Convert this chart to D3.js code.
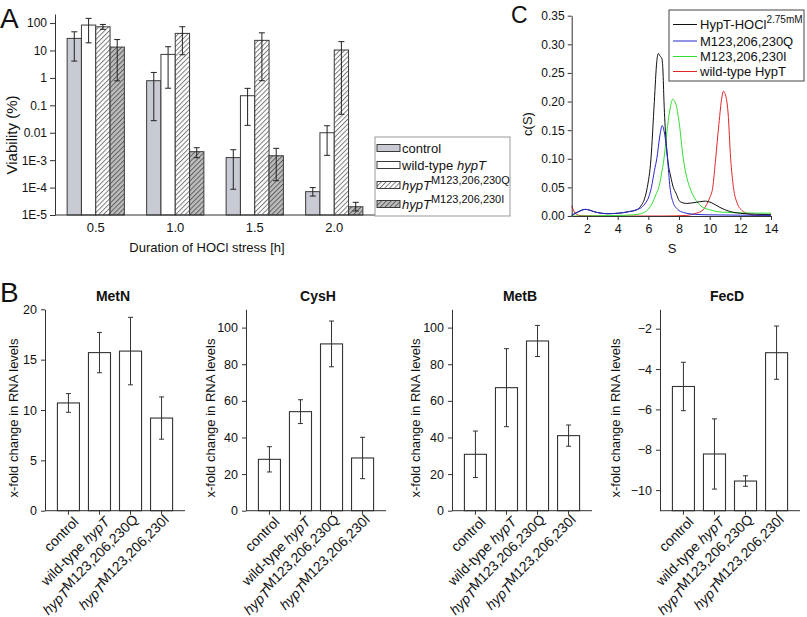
<!DOCTYPE html>
<html>
<head>
<meta charset="utf-8">
<script src="https://cdn.jsdelivr.net/npm/d3@7"></script>
<style>
body { margin: 0; background: #fff; }
svg text { font-family: "Liberation Sans", Arial, sans-serif; fill: #111; }
</style>
</head>
<body>
<svg id="fig" width="807" height="617"></svg>
<script>
// ---------- Panel A data: viability (%) after HOCl stress ----------
const DURATIONS = ['0.5', '1.0', '1.5', '2.0'];
const A_SERIES = ['control', 'wild-type', 'Q', 'I'];

const CONTROL_VAL = [27.6, 0.79, 0.00124, 7.1e-5];
const CONTROL_HI  = [48, 1.58, 0.0024, 1.0e-4];
const CONTROL_LO  = [4.1, 0.0275, 8.7e-5, 4.9e-5];

const WILD_VAL = [84.5, 7.2, 0.224, 0.0100];
const WILD_HI  = [148, 13.7, 0.415, 0.018];
const WILD_LO  = [19, 0.42, 0.0186, 0.0015];

const Q_VAL = [73, 42, 23.4, 10.4];
const Q_HI  = [89, 73.5, 44, 21];
const Q_LO  = [59, 7, 0.79, 0.047];

const I_VAL = [13.3, 0.00204, 0.00145, 2.0e-5];
const I_HI  = [25, 0.00285, 0.0027, 2.9e-5];
const I_LO  = [0.78, 0.00123, 1.78e-4, 1.4e-5];

const A_TICKS = [1e-5, 1e-4, 1e-3, 0.01, 0.1, 1, 10, 100];
const A_TICK_LABELS = ['1E-5', '1E-4', '1E-3', '0.01', '0.1', '1', '10', '100'];

// ---------- Panel B data: x-fold change in RNA levels ----------
const STRAIN_PLAIN  = ['control', 'wild-type ', '', ''];
const STRAIN_ITALIC = ['', 'hypT', 'hypT', 'hypT'];
const STRAIN_SUP    = ['', '', 'M123,206,230Q', 'M123,206,230I'];

const GENES = ['MetN', 'CysH', 'MetB', 'FecD'];
const METN = [10.7, 15.7, 15.85, 9.2];
const METN_ERR = [0.93, 2.0, 3.35, 2.1];
const CYSH = [28.05, 54.1, 91.1, 28.8];
const CYSH_ERR = [6.9, 6.5, 12.5, 11.3];
const METB = [30.8, 67.2, 92.7, 41.0];
const METB_ERR = [12.7, 21.3, 8.5, 5.8];
const FECD = [-4.865, -8.21, -9.55, -3.19];
const FECD_ERR = [1.2, 1.74, 0.26, 1.32];

// ---------- Panel C data: c(S) distributions ----------
const HOCL_S = [1.0, 1.4, 1.9, 2.6, 3.3, 4.1, 4.7, 5.2, 5.5, 5.75, 5.93, 6.17, 6.39, 6.55, 6.65, 6.75, 6.88, 6.95, 7.02, 7.26, 7.45, 7.63, 7.8, 8.07, 8.5, 9.15, 9.7, 10.13, 10.67, 11.3, 12.0, 13.0, 14.0];
const HOCL_C = [0.001, 0.007, 0.0116, 0.0065, 0.004, 0.005, 0.0075, 0.0105, 0.017, 0.03, 0.05, 0.10, 0.20, 0.27, 0.284, 0.28, 0.275, 0.255, 0.20, 0.10, 0.07, 0.05, 0.04, 0.025, 0.022, 0.024, 0.026, 0.023, 0.015, 0.008, 0.0047, 0.003, 0.0023];

const MQ_S = [1.0, 1.4, 1.9, 2.6, 3.3, 4.1, 4.7, 5.2, 5.55, 5.85, 6.05, 6.2, 6.4, 6.55, 6.75, 6.9, 7.05, 7.25, 7.41, 7.6, 7.9, 8.3, 9.0, 10.0, 12.0, 14.0];
const MQ_C = [0.001, 0.007, 0.0116, 0.0065, 0.004, 0.005, 0.0075, 0.0105, 0.015, 0.024, 0.035, 0.05, 0.08, 0.10, 0.14, 0.158, 0.145, 0.10, 0.05, 0.025, 0.012, 0.006, 0.003, 0.002, 0.0015, 0.001];

const MI_S = [1.0, 2.0, 3.0, 4.0, 5.0, 5.5, 6.0, 6.3, 6.5, 6.7, 6.9, 7.02, 7.2, 7.4, 7.59, 7.8, 8.0, 8.28, 8.5, 8.7, 9.0, 9.5, 10.0, 10.5, 11.0, 12.0, 13.0, 14.0];
const MI_C = [0.0, 0.0, 0.0005, 0.001, 0.002, 0.004, 0.012, 0.025, 0.038, 0.052, 0.08, 0.10, 0.145, 0.185, 0.204, 0.195, 0.165, 0.10, 0.068, 0.05, 0.032, 0.016, 0.011, 0.0076, 0.0065, 0.0055, 0.005, 0.005];

const WT_S = [1.0, 1.15, 1.3, 1.6, 3.0, 5.0, 7.0, 8.5, 9.0, 9.5, 9.8, 10.0, 10.2, 10.39, 10.6, 10.8, 10.9, 11.0, 11.2, 11.37, 11.55, 11.8, 12.1, 12.5, 13.0, 14.0];
const WT_C = [0.018, 0.008, 0.003, 0.0005, 0.0, 0.0, 0.0, 0.001, 0.004, 0.009, 0.02, 0.032, 0.05, 0.10, 0.16, 0.208, 0.218, 0.214, 0.18, 0.10, 0.05, 0.022, 0.01, 0.004, 0.001, 0.0];

const C_NAMES = ['HypT-HOCl', 'M123,206,230Q', 'M123,206,230I', 'wild-type HypT'];
const C_COLORS = ['#111111', '#2626d0', '#33dd33', '#e22626'];

const AXIS = '#333';
const svg = d3.select('#fig');
const defs = svg.append('defs');

// diagonal hatch pattern
function hatch(id, bg, fg) {
    const p = defs.append('pattern').attr('id', id)
        .attr('patternUnits', 'userSpaceOnUse')
        .attr('width', 3.4).attr('height', 3.4)
        .attr('patternTransform', 'rotate(45)');
    p.append('rect').attr('width', 3.4).attr('height', 3.4).attr('fill', bg);
    p.append('line').attr('x1', 0.5).attr('y1', 0).attr('x2', 0.5).attr('y2', 3.4)
        .attr('stroke', fg).attr('stroke-width', 0.9);
}
hatch('hatchQ', '#ffffff', '#6e6e6e');
hatch('hatchI', '#bdbdbd', '#555555');
const A_FILLS = ['#c8cbd4', '#ffffff', 'url(#hatchQ)', 'url(#hatchI)'];

function styleAxis(g, size) {
    g.selectAll('path, line').attr('stroke', AXIS).attr('stroke-width', 1);
    g.selectAll('text').attr('font-size', size || 13).attr('fill', '#111');
}

function panelLetter(txt, x, y, size) {
    svg.append('text').attr('x', x).attr('y', y).attr('font-size', size).text(txt);
}

// ================= Panel A =================
function drawA() {
    const base = 215;
    const xA = d3.scaleBand().domain(DURATIONS).range([56, 374])
        .paddingInner(0.28).paddingOuter(0.14);
    const xIn = d3.scaleBand().domain(A_SERIES).range([0, xA.bandwidth()]);
    const yA = d3.scaleLog().domain([1e-5, 214]).range([base, 14]);

    const vals = [CONTROL_VAL, WILD_VAL, Q_VAL, I_VAL];
    const his = [CONTROL_HI, WILD_HI, Q_HI, I_HI];
    const los = [CONTROL_LO, WILD_LO, Q_LO, I_LO];

    const g = svg.append('g');
    A_SERIES.forEach((s, si) => {
        DURATIONS.forEach((d, di) => {
            const x = xA(d) + xIn(s);
            const v = vals[si][di];
            g.append('rect')
                .attr('x', x).attr('y', yA(v))
                .attr('width', xIn.bandwidth()).attr('height', base - yA(v))
                .attr('fill', A_FILLS[si]).attr('stroke', '#3a3a3a').attr('stroke-width', 1);
            const cx = x + xIn.bandwidth() / 2;
            g.append('line').attr('x1', cx).attr('x2', cx)
                .attr('y1', yA(his[si][di])).attr('y2', yA(los[si][di]))
                .attr('stroke', '#222').attr('stroke-width', 1);
            [his[si][di], los[si][di]].forEach(e => {
                g.append('line').attr('x1', cx - 3).attr('x2', cx + 3)
                    .attr('y1', yA(e)).attr('y2', yA(e))
                    .attr('stroke', '#222').attr('stroke-width', 1);
            });
        });
    });

    const ya = svg.append('g').attr('transform', 'translate(55,0)')
        .call(d3.axisLeft(yA).tickValues(A_TICKS)
            .tickFormat((d, i) => A_TICK_LABELS[i]).tickSize(5).tickSizeOuter(0).tickPadding(3));
    styleAxis(ya, 12);

    const xa = svg.append('g').attr('transform', 'translate(0,' + base + ')')
        .call(d3.axisBottom(xA).tickSize(0).tickPadding(8));
    xa.select('.domain').remove();
    styleAxis(xa);
    svg.append('line').attr('x1', 55).attr('x2', 380).attr('y1', base).attr('y2', base)
        .attr('stroke', AXIS).attr('stroke-width', 1);

    svg.append('text').attr('transform', 'translate(17,135) rotate(-90)')
        .attr('text-anchor', 'middle').attr('font-size', 15).text('Viability (%)');
    svg.append('text').attr('x', 207).attr('y', 252)
        .attr('text-anchor', 'middle').attr('font-size', 13).text('Duration of HOCl stress [h]');

    // legend
    const lg = svg.append('g');
    lg.append('rect').attr('x', 375).attr('y', 137).attr('width', 135).attr('height', 79)
        .attr('fill', '#fff').attr('stroke', '#999').attr('stroke-width', 1);
    const rowsY = [148, 165, 185, 204];
    A_SERIES.forEach((s, i) => {
        lg.append('rect').attr('x', 377).attr('y', rowsY[i] - 3.5)
            .attr('width', 23).attr('height', 7)
            .attr('fill', A_FILLS[i]).attr('stroke', '#3a3a3a').attr('stroke-width', 1);
        const t = lg.append('text').attr('x', 402).attr('y', rowsY[i] + 4.5).attr('font-size', 13);
        if (STRAIN_PLAIN[i]) t.append('tspan').text(STRAIN_PLAIN[i]);
        if (STRAIN_ITALIC[i]) t.append('tspan').attr('font-style', 'italic').text(STRAIN_ITALIC[i]);
        if (STRAIN_SUP[i]) t.append('tspan').attr('font-size', 11).attr('dy', -6).text(STRAIN_SUP[i]);
    });

    panelLetter('A', 0, 28, 28);
}

// ================= Panel B =================
function drawB(name, vals, errs, axisX, domain, ticks, fmt, titleX, labelX) {
    const top = 309.3, base = 510.7;
    const xB = d3.scaleBand().domain(d3.range(4)).range([axisX, axisX + 140])
        .paddingInner(0.29).paddingOuter(0.4);
    const yB = d3.scaleLinear().domain(domain).range([base, top]);
    const g = svg.append('g');

    vals.forEach((v, i) => {
        const x = xB(i);
        const y0 = yB(domain[0]);
        g.append('rect').attr('x', x).attr('y', yB(v))
            .attr('width', xB.bandwidth()).attr('height', y0 - yB(v))
            .attr('fill', '#fff').attr('stroke', '#333').attr('stroke-width', 1.1);
        const cx = x + xB.bandwidth() / 2;
        g.append('line').attr('x1', cx).attr('x2', cx)
            .attr('y1', yB(v + errs[i])).attr('y2', yB(v - errs[i]))
            .attr('stroke', '#333').attr('stroke-width', 1);
        [v + errs[i], v - errs[i]].forEach(e => {
            g.append('line').attr('x1', cx - 2.5).attr('x2', cx + 2.5)
                .attr('y1', yB(e)).attr('y2', yB(e))
                .attr('stroke', '#333').attr('stroke-width', 1);
        });
    });

    const ya = svg.append('g').attr('transform', 'translate(' + axisX + ',0)')
        .call(d3.axisLeft(yB).tickValues(ticks).tickFormat(fmt)
            .tickSize(4).tickSizeOuter(0).tickPadding(4));
    styleAxis(ya, 12.5);

    const xa = svg.append('g').attr('transform', 'translate(0,' + base + ')')
        .call(d3.axisBottom(xB).tickSize(4).tickSizeOuter(0).tickFormat(''));
    xa.select('.domain').attr('d', 'M' + axisX + ',0H' + (axisX + 140));
    styleAxis(xa);

    // rotated strain labels
    d3.range(4).forEach(i => {
        const cx = xB(i) + xB.bandwidth() / 2;
        const t = svg.append('text')
            .attr('transform', 'translate(' + (cx + 11) + ',' + (base + 12) + ') rotate(-45)')
            .attr('text-anchor', 'end').attr('font-size', 14);
        if (STRAIN_PLAIN[i]) t.append('tspan').text(STRAIN_PLAIN[i]);
        if (STRAIN_ITALIC[i]) t.append('tspan').attr('font-style', 'italic').text(STRAIN_ITALIC[i]);
        if (STRAIN_SUP[i]) t.append('tspan').attr('dy', -3.5).text(STRAIN_SUP[i]);
    });

    svg.append('text').attr('x', titleX).attr('y', 301)
        .attr('text-anchor', 'middle').attr('font-size', 14).attr('font-weight', 'bold').text(name);
    svg.append('text').attr('transform', 'translate(' + labelX + ',418) rotate(-90)')
        .attr('text-anchor', 'middle').attr('font-size', 13).text('x-fold change in RNA levels');
}

// ================= Panel C =================
function drawC() {
    const xC = d3.scaleLinear().domain([1, 14]).range([571.7, 771]);
    const yC = d3.scaleLinear().domain([0, 0.35]).range([216, 15.7]);
    const line = d3.line().x(d => xC(d[0])).y(d => yC(d[1])).curve(d3.curveMonotoneX);

    const curves = [[HOCL_S, HOCL_C], [MQ_S, MQ_C], [MI_S, MI_C], [WT_S, WT_C]];
    // draw red and green first so black and blue sit on top
    [3, 2, 0, 1].forEach(k => {
        const pts = curves[k][0].map((s, i) => [s, curves[k][1][i]]);
        svg.append('path').attr('d', line(pts)).attr('fill', 'none')
            .attr('stroke', C_COLORS[k]).attr('stroke-width', 1);
    });

    const ya = svg.append('g').attr('transform', 'translate(571.7,0)')
        .call(d3.axisLeft(yC).tickValues([0, 0.05, 0.10, 0.15, 0.20, 0.25, 0.30, 0.35])
            .tickFormat(d3.format('.2f')).tickSize(4).tickSizeOuter(0).tickPadding(3));
    styleAxis(ya, 12);
    const xa = svg.append('g').attr('transform', 'translate(0,216)')
        .call(d3.axisBottom(xC).tickValues([2, 4, 6, 8, 10, 12, 14])
            .tickSize(4).tickSizeOuter(0).tickPadding(4));
    styleAxis(xa, 12.5);

    svg.append('text').attr('x', 672).attr('y', 253).attr('text-anchor', 'middle')
        .attr('font-size', 13).text('S');
    svg.append('text').attr('transform', 'translate(532,124) rotate(-90)')
        .attr('text-anchor', 'middle').attr('font-size', 13).text('c(S)');

    // legend
    const lg = svg.append('g');
    lg.append('rect').attr('x', 669).attr('y', 10).attr('width', 135).attr('height', 71)
        .attr('fill', '#fff').attr('stroke', '#444').attr('stroke-width', 1);
    const rowsY = [24.5, 41, 56.5, 71.5];
    C_NAMES.forEach((n, i) => {
        lg.append('line').attr('x1', 673).attr('x2', 697).attr('y1', rowsY[i]).attr('y2', rowsY[i])
            .attr('stroke', C_COLORS[i]).attr('stroke-width', 1);
        const t = lg.append('text').attr('x', 700).attr('y', rowsY[i] + 4.5).attr('font-size', 13);
        t.append('tspan').text(n);
        if (i === 0) t.append('tspan').attr('font-size', 10).attr('dy', -6).text('2.75mM');
    });

    panelLetter('C', 511, 23, 23);
}

drawA();
drawB(GENES[0], METN, METN_ERR, 45, [0, 20], [0, 5, 10, 15, 20], d3.format('d'), 113, 18);
drawB(GENES[1], CYSH, CYSH_ERR, 246, [0, 110], [0, 20, 40, 60, 80, 100], d3.format('d'), 318, 215);
drawB(GENES[2], METB, METB_ERR, 452, [0, 110], [0, 20, 40, 60, 80, 100], d3.format('d'), 520, 420);
drawB(GENES[3], FECD, FECD_ERR, 660, [-11.02, -1.04], [-10, -8, -6, -4, -2], d3.format('d'), 727, 620);
panelLetter('B', 0, 302, 28);
drawC();
</script>
</body>
</html>
